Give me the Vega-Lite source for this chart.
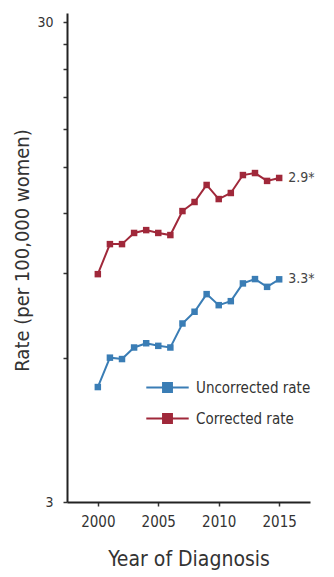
{
  "$schema": "https://vega.github.io/schema/vega-lite/v6.json",
  "width": 243,
  "height": 489,
  "autosize": {"type": "none"},
  "padding": {"left": 67, "top": 13, "right": 24, "bottom": 75},
  "background": "white",
  "config": {
    "view": {"stroke": null},
    "font": "Liberation Sans Narrow, DejaVu Sans Condensed, Roboto, sans-serif"
  },
  "datasets": {
    "rates": [
      {"year": 2000, "rate": 5.21, "series": "Uncorrected rate"},
      {"year": 2001, "rate": 6.00, "series": "Uncorrected rate"},
      {"year": 2002, "rate": 5.96, "series": "Uncorrected rate"},
      {"year": 2003, "rate": 6.30, "series": "Uncorrected rate"},
      {"year": 2004, "rate": 6.43, "series": "Uncorrected rate"},
      {"year": 2005, "rate": 6.35, "series": "Uncorrected rate"},
      {"year": 2006, "rate": 6.30, "series": "Uncorrected rate"},
      {"year": 2007, "rate": 7.07, "series": "Uncorrected rate"},
      {"year": 2008, "rate": 7.48, "series": "Uncorrected rate"},
      {"year": 2009, "rate": 8.14, "series": "Uncorrected rate"},
      {"year": 2010, "rate": 7.72, "series": "Uncorrected rate"},
      {"year": 2011, "rate": 7.87, "series": "Uncorrected rate"},
      {"year": 2012, "rate": 8.57, "series": "Uncorrected rate"},
      {"year": 2013, "rate": 8.75, "series": "Uncorrected rate"},
      {"year": 2014, "rate": 8.43, "series": "Uncorrected rate"},
      {"year": 2015, "rate": 8.74, "series": "Uncorrected rate"},
      {"year": 2000, "rate": 8.96, "series": "Corrected rate"},
      {"year": 2001, "rate": 10.35, "series": "Corrected rate"},
      {"year": 2002, "rate": 10.35, "series": "Corrected rate"},
      {"year": 2003, "rate": 10.92, "series": "Corrected rate"},
      {"year": 2004, "rate": 11.07, "series": "Corrected rate"},
      {"year": 2005, "rate": 10.92, "series": "Corrected rate"},
      {"year": 2006, "rate": 10.81, "series": "Corrected rate"},
      {"year": 2007, "rate": 12.13, "series": "Corrected rate"},
      {"year": 2008, "rate": 12.67, "series": "Corrected rate"},
      {"year": 2009, "rate": 13.75, "series": "Corrected rate"},
      {"year": 2010, "rate": 12.85, "series": "Corrected rate"},
      {"year": 2011, "rate": 13.23, "series": "Corrected rate"},
      {"year": 2012, "rate": 14.42, "series": "Corrected rate"},
      {"year": 2013, "rate": 14.56, "series": "Corrected rate"},
      {"year": 2014, "rate": 14.02, "series": "Corrected rate"},
      {"year": 2015, "rate": 14.22, "series": "Corrected rate"}
    ],
    "notes": [
      {"year": 2015, "rate": 14.22, "label": "2.9*"},
      {"year": 2015, "rate": 8.74, "label": "3.3*"}
    ]
  },
  "encoding": {
    "x": {
      "field": "year", "type": "quantitative",
      "scale": {"domain": [1997.45, 2017.55], "nice": false, "zero": false},
      "axis": {
        "title": "Year of Diagnosis",
        "values": [2000, 2005, 2010, 2015],
        "format": "d",
        "grid": false,
        "domainColor": "#222", "domainWidth": 2,
        "tickColor": "#333", "tickWidth": 1.5, "tickSize": 4,
        "labelFontSize": 15, "labelColor": "#333", "labelPadding": 8,
        "titleFontSize": 21, "titleColor": "#333", "titleFontWeight": "normal",
        "titleBaseline": "middle", "titleY": 57
      }
    },
    "y": {
      "field": "rate", "type": "quantitative",
      "scale": {"type": "log", "domain": [3, 31.4], "nice": false, "zero": false},
      "axis": {
        "title": "Rate (per 100,000 women)",
        "values": [3, 6, 9, 12, 15, 18, 21, 24, 27, 30],
        "format": "d",
        "labelExpr": "datum.value == 3 || datum.value == 30 ? datum.label : ''",
        "grid": false,
        "domainColor": "#222", "domainWidth": 2,
        "tickColor": "#333", "tickWidth": 1.5, "tickSize": 4,
        "labelFontSize": 14, "labelColor": "#333", "labelPadding": 10,
        "titleFontSize": 20, "titleColor": "#333", "titleFontWeight": "normal",
        "titleBaseline": "middle", "titleAlign": "center", "titleAngle": -90,
        "titleX": -45, "titleY": 237
      }
    }
  },
  "layer": [
    {
      "data": {"name": "rates"},
      "mark": {"type": "line", "strokeWidth": 2, "point": {"shape": "square", "size": 42, "filled": true}},
      "encoding": {
        "color": {
          "field": "series", "type": "nominal",
          "scale": {"domain": ["Uncorrected rate", "Corrected rate"], "range": ["#3a7db5", "#a0283a"]},
          "legend": {
            "title": null,
            "orient": "none",
            "legendX": 78,
            "legendY": 352,
            "symbolType": "M-1,0H1M-0.21,-0.21H0.21V0.21H-0.21Z",
            "symbolSize": 1800,
            "symbolStrokeWidth": 2,
            "labelFontSize": 15,
            "labelColor": "#333",
            "labelOffset": 6,
            "rowPadding": -12
          }
        }
      }
    },
    {
      "data": {"name": "notes"},
      "mark": {"type": "text", "align": "left", "baseline": "middle", "dx": 9, "fontSize": 14, "color": "#444"},
      "encoding": {"text": {"field": "label"}}
    }
  ]
}
